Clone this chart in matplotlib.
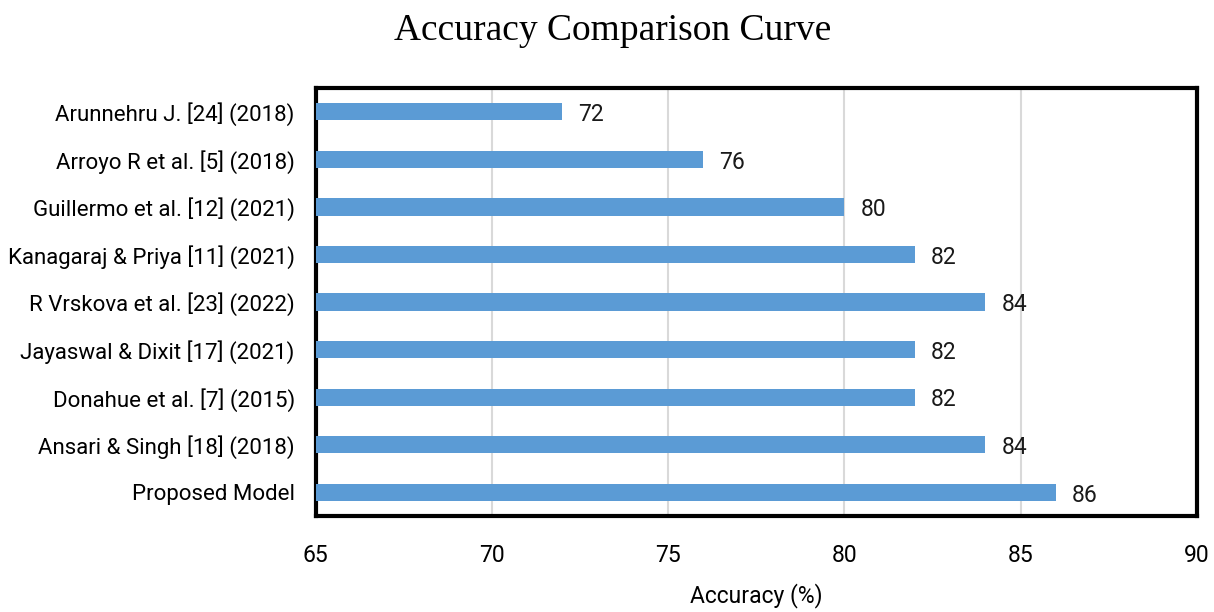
import matplotlib.pyplot as plt
import numpy as np

models = ['Arunnehru J. [24] (2018)', 'Arroyo R et al. [5] (2018)',
          'Guillermo et al. [12] (2021)', 'Kanagaraj & Priya [11] (2021)',
          'R Vrskova et al. [23] (2022)', 'Jayaswal & Dixit [17] (2021)',
          'Donahue et al. [7] (2015)', 'Ansari & Singh [18] (2018)',
          'Proposed Model']
accuracy = [72, 76, 80, 82, 84, 82, 82, 84, 86]
xticks = [65, 70, 75, 80, 85, 90]

fig = plt.figure(figsize=(12.14, 6.12), dpi=100)
ax = fig.add_axes([0.260, 0.157, 0.726, 0.699])

y = np.arange(len(models))[::-1]
ax.barh(y, accuracy, height=0.36, color='#5b9bd5', zorder=3)
for yi, v in zip(y, accuracy):
    ax.text(v + 0.45, yi - 0.06, str(v), va='center', ha='left', fontsize=16.5,
            family='Roboto', color='#1a1a1a')

ax.set_xlim(65, 90)
ax.set_ylim(-0.5, len(models) - 0.5)
ax.set_xticks(xticks)
ax.set_xticklabels([str(t) for t in xticks], family='Roboto', fontsize=16.5)
ax.set_yticks(y)
ax.set_yticklabels(models, family='Roboto', fontsize=16)
ax.tick_params(length=0)
ax.tick_params(axis='y', pad=15)
ax.tick_params(axis='x', pad=20)
ax.grid(axis='x', color='#d9d9d9', linewidth=1.5, zorder=0)
for s in ax.spines.values():
    s.set_linewidth(3)
    s.set_color('black')

ax.set_xlabel('Accuracy (%)', family='Roboto', fontsize=16.5, labelpad=12)
fig.text(0.505, 0.950, 'Accuracy Comparison Curve', ha='center', va='center',
         family='Liberation Serif', fontsize=27)

fig.savefig('out.png', dpi=100)
